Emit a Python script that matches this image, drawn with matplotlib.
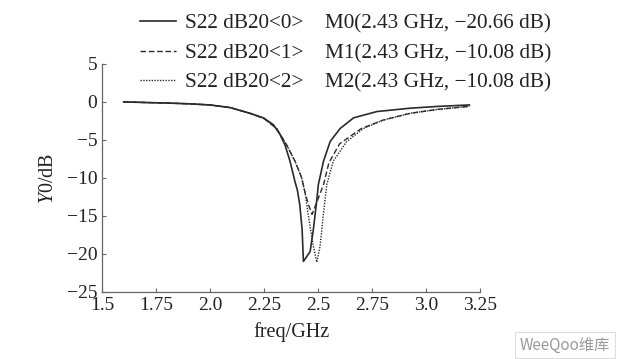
import matplotlib
matplotlib.use('Agg')
import matplotlib.pyplot as plt

plt.rcParams['font.family'] = ['Liberation Serif', 'DejaVu Serif']
plt.rcParams['mathtext.fontset'] = 'custom'
plt.rcParams['mathtext.it'] = 'Liberation Serif:italic'
plt.rcParams['mathtext.rm'] = 'Liberation Serif'

# S22 dB20<0>  (solid)
freq0 = [1.6, 1.7, 1.8, 1.9, 2.0, 2.093, 2.185, 2.247, 2.293, 2.324, 2.347, 2.37,
         2.393, 2.404, 2.415, 2.426, 2.432, 2.463, 2.478, 2.494, 2.501, 2.525,
         2.556, 2.602, 2.664, 2.772, 2.926, 3.05, 3.2]
s22_0 = [0.0, -0.08, -0.15, -0.25, -0.4, -0.75, -1.5, -2.1, -3.0, -4.3, -5.7, -7.8,
         -10.5, -11.6, -13.5, -16.8, -21.0, -19.7, -16.8, -12.9, -10.9, -7.8,
         -5.2, -3.5, -2.1, -1.27, -0.83, -0.6, -0.4]

# S22 dB20<1>  (dashed)
freq1 = [1.6, 1.7, 1.8, 1.9, 2.0, 2.093, 2.185, 2.25, 2.308, 2.355, 2.393, 2.424,
         2.44, 2.455, 2.472, 2.49, 2.51, 2.525, 2.55, 2.6, 2.7, 2.8, 2.926, 3.05, 3.2]
s22_1 = [0.0, -0.08, -0.15, -0.25, -0.4, -0.75, -1.5, -2.2, -3.5, -5.7, -7.8, -10.0,
         -12.0, -13.5, -14.8, -13.5, -12.0, -10.9, -8.0, -5.5, -3.5, -2.4, -1.5, -1.0, -0.58]

# S22 dB20<2>  (dotted)
freq2 = [1.6, 1.7, 1.8, 1.9, 2.0, 2.093, 2.185, 2.25, 2.308, 2.355, 2.393, 2.424,
         2.44, 2.455, 2.478, 2.494, 2.509, 2.525, 2.54, 2.57, 2.633, 2.71, 2.8,
         2.926, 3.05, 3.2]
s22_2 = [0.0, -0.08, -0.15, -0.25, -0.4, -0.75, -1.5, -2.2, -3.5, -5.7, -7.8, -10.0,
         -12.0, -15.0, -19.0, -21.1, -19.0, -14.6, -10.9, -7.8, -5.2, -3.5, -2.4,
         -1.5, -1.0, -0.58]

labels = ['S22 dB20<0>    M0(2.43 GHz, \u221220.66 dB)',
          'S22 dB20<1>    M1(2.43 GHz, \u221210.08 dB)',
          'S22 dB20<2>    M2(2.43 GHz, \u221210.08 dB)']

xticks = [1.5, 1.75, 2.0, 2.25, 2.5, 2.75, 3.0, 3.25]
xticklabels = ['1.5', '1.75', '2.0', '2.25', '2.5', '2.75', '3.0', '3.25']
yticks = [5, 0, -5, -10, -15, -20, -25]

fig = plt.figure(figsize=(6.22, 3.59), dpi=100)
ax = fig.add_axes([0.164, 0.187, 0.608, 0.635])

c = '#2b2b2b'
ax.plot(freq0, s22_0, color=c, lw=1.2, ls='-', label=labels[0])
ax.plot(freq1, s22_1, color=c, lw=1.0, ls=(0, (4, 2)), label=labels[1])
ax.plot(freq2, s22_2, color=c, lw=1.0, ls=(0, (1, 1)), label=labels[2])

ax.set_xlim(1.5, 3.25)
ax.set_ylim(-25, 5)
ax.set_xticks(xticks)
ax.set_xticklabels(xticklabels)
ax.set_yticks(yticks)
ax.set_yticklabels([str(t).replace('-', '\u2212') for t in yticks])
ax.spines['top'].set_visible(False)
ax.spines['right'].set_visible(False)
for s in ['left', 'bottom']:
    ax.spines[s].set_color('#666666')
    ax.spines[s].set_linewidth(0.9)
ax.tick_params(direction='in', length=3, width=0.8, color='#666666',
               labelsize=14, labelcolor='#222222', pad=3.5)

ax.set_xlabel('freq/GHz', fontsize=14.5, color='#222222', labelpad=6)
ax.set_ylabel('$Y$0/dB', fontsize=14.5, color='#222222', labelpad=6)

leg = fig.legend(loc='upper left', bbox_to_anchor=(140 / 622, 1 - 14 / 359),
                 frameon=False, fontsize=15.3, handlelength=1.7, handletextpad=0.4,
                 labelspacing=0.45, borderpad=0, borderaxespad=0)
for t in leg.get_texts():
    t.set_color('#222222')

# watermark
fig.text(565 / 622, 1 - 345 / 359, 'WeeQoo\u7ef4\u5e93', fontsize=11, color='#9a9a9a',
         style='italic', ha='center', va='center',
         family=['Noto Sans CJK SC', 'DejaVu Sans'],
         bbox=dict(boxstyle='square,pad=0.3', fc='white', ec='#dddddd', lw=0.8))

fig.savefig('out.png', dpi=100)
